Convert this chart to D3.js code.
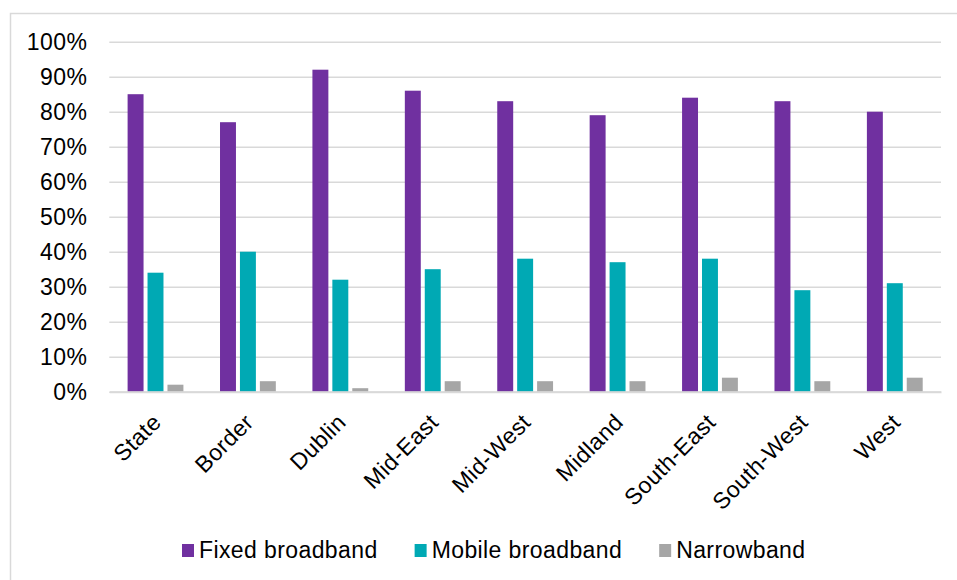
<!DOCTYPE html>
<html>
<head>
<meta charset="utf-8">
<script src="https://cdn.jsdelivr.net/npm/d3@7"></script>
<style>
    body { margin: 0; background: #fff; }
    svg text { font-family: "Liberation Sans", Arial, sans-serif; fill: #000; }
</style>
</head>
<body>
<div id="chart"></div>
<script>
// regions and the three access types (values in %)
const regions = ["State", "Border", "Dublin", "Mid-East", "Mid-West", "Midland", "South-East", "South-West", "West"];
const seriesNames = ["Fixed broadband", "Mobile broadband", "Narrowband"];
const fixedBroadband = [85, 77, 92, 86, 83, 79, 84, 83, 80];
const mobileBroadband = [34, 40, 32, 35, 38, 37, 38, 29, 31];
const narrowband = [2, 3, 1, 3, 3, 3, 4, 3, 4];
const yTicks = [0, 10, 20, 30, 40, 50, 60, 70, 80, 90, 100];
const colors = ["#7030a0", "#00a9b4", "#a6a6a6"];

const series = [fixedBroadband, mobileBroadband, narrowband];

let W = 957, H = 580;
let margin = { top: 41.7, right: 16, bottom: 188.3, left: 109.3 };
let width = W - margin.left - margin.right;
let height = H - margin.top - margin.bottom;
let fontSize = "23px", spacing = "0.4px";

let svg = d3.select("#chart").append("svg")
    .attr("width", W)
    .attr("height", H);

// outer frame (runs off the right / bottom edge like the original)
svg.append("rect")
    .attr("x", 10.5).attr("y", 13.5)
    .attr("width", W + 20).attr("height", H + 20)
    .attr("fill", "none")
    .attr("stroke", "#d9d9d9")
    .attr("stroke-width", 1.5);

let g = svg.append("g")
    .attr("transform", "translate(" + margin.left + "," + margin.top + ")");

// scales
let x = d3.scaleBand()
    .domain(regions)
    .range([0, width]);

let x1 = d3.scaleBand()
    .domain(d3.range(series.length))
    .range([18.3, x.bandwidth() - 18.3])
    .paddingInner(0.2);

let y = d3.scaleLinear()
    .domain([0, 100])
    .range([height, 0]);

// y axis + gridlines
let yAxis = d3.axisLeft(y)
    .tickValues(yTicks)
    .tickSize(-width)
    .tickPadding(22)
    .tickFormat(d => d + "%");

let yAxisGroup = g.append("g").attr("class", "y-axis").call(yAxis);
yAxisGroup.select(".domain").remove();
yAxisGroup.selectAll("line")
    .attr("stroke", "#d9d9d9")
    .attr("stroke-width", 1.5);
yAxisGroup.selectAll("text")
    .style("font-size", fontSize)
    .style("letter-spacing", spacing);

// bars
let groups = g.selectAll(".region")
    .data(regions)
    .enter().append("g")
    .attr("class", "region")
    .attr("transform", d => "translate(" + x(d) + ",0)");

groups.selectAll("rect")
    .data((d, i) => series.map((s, k) => ({ k: k, value: s[i] })))
    .enter().append("rect")
    .attr("x", d => x1(d.k))
    .attr("width", x1.bandwidth())
    .attr("y", d => y(d.value))
    .attr("height", d => height - y(d.value))
    .attr("fill", d => colors[d.k]);

// x axis
let xAxis = d3.axisBottom(x).tickSize(0);
let xAxisGroup = g.append("g")
    .attr("class", "x-axis")
    .attr("transform", "translate(0," + height + ")")
    .call(xAxis);
xAxisGroup.select(".domain")
    .attr("stroke", "#d9d9d9")
    .attr("stroke-width", 2);
xAxisGroup.selectAll("text")
    .attr("x", 0).attr("y", 0).attr("dy", null)
    .attr("text-anchor", "end")
    .attr("transform", "translate(7,32) rotate(-45)")
    .style("font-size", fontSize)
    .style("letter-spacing", spacing);

// legend
let legend = svg.append("g").attr("class", "legend");
let lx = 182;
seriesNames.forEach((name, k) => {
    legend.append("rect")
        .attr("x", lx).attr("y", 544)
        .attr("width", 12).attr("height", 13)
        .attr("fill", colors[k]);
    let t = legend.append("text")
        .attr("x", lx + 17).attr("y", 558)
        .style("font-size", fontSize)
        .style("letter-spacing", spacing)
        .text(name);
    lx += 17 + t.node().getComputedTextLength() + 37;
});
</script>
</body>
</html>
